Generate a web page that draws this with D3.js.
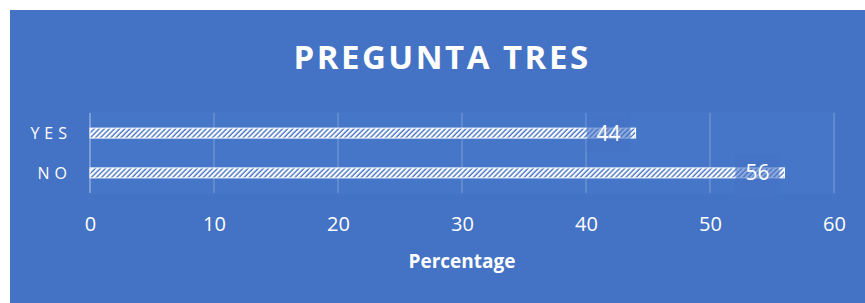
<!DOCTYPE html>
<html>
<head>
<meta charset="utf-8">
<script src="https://cdn.jsdelivr.net/npm/d3@7"></script>
<style>
  body { margin: 0; background: #fff; }
  text { font-family: "Open Sans", "Noto Sans", sans-serif; fill: #fff; }
</style>
</head>
<body>
<div id="chart"></div>
<script>
// Data
var categories = ["YES", "NO"];
var values = [44, 56];
var xTicks = [0, 10, 20, 30, 40, 50, 60];
var chartTitle = "PREGUNTA TRES";
var xTitle = "Percentage";

var W = 865, H = 303;
var plot = {left: 90, right: 834, top: 113, bottom: 193};

var svg = d3.select("#chart").append("svg")
    .attr("width", W)
    .attr("height", H);

// Hatch pattern for the bars
var defs = svg.append("defs");
var pat = defs.append("pattern")
    .attr("id", "hatch")
    .attr("patternUnits", "userSpaceOnUse")
    .attr("width", 3.6)
    .attr("height", 3.6)
    .attr("patternTransform", "rotate(45)");
pat.append("rect").attr("width", 3.6).attr("height", 3.6).attr("fill", "#4472c4");
pat.append("rect").attr("width", 2.2).attr("height", 3.6).attr("fill", "#fff");

// Background
svg.append("rect")
    .attr("x", 10).attr("y", 10)
    .attr("width", W - 10).attr("height", H - 10)
    .attr("fill", "#4472c4");

// Plot area
svg.append("rect")
    .attr("x", plot.left).attr("y", plot.top - 1)
    .attr("width", plot.right - plot.left + 2).attr("height", plot.bottom - plot.top + 2)
    .attr("fill", "#4676c8");

// Title
svg.append("text")
    .attr("x", 442).attr("y", 69)
    .attr("text-anchor", "middle")
    .attr("font-size", 33)
    .attr("font-weight", "bold")
    .attr("letter-spacing", 2.5)
    .text(chartTitle);

var x = d3.scaleLinear()
    .domain([0, 60])
    .range([plot.left, plot.right]);

var y = d3.scaleBand()
    .domain(categories)
    .range([plot.top, plot.bottom])
    .paddingInner(0.75)
    .paddingOuter(0.38);

// Gridlines
svg.append("g")
    .selectAll("line")
    .data(xTicks)
    .join("line")
    .attr("x1", d => x(d)).attr("x2", d => x(d))
    .attr("y1", plot.top).attr("y2", plot.bottom)
    .attr("stroke", "#fff")
    .attr("stroke-opacity", d => d === 0 ? 0.45 : 0.22)
    .attr("stroke-width", 1.3);

// Bars
svg.append("g")
    .selectAll("rect")
    .data(values)
    .join("rect")
    .attr("x", x(0))
    .attr("y", (d, i) => y(categories[i]))
    .attr("width", d => x(d) - x(0))
    .attr("height", y.bandwidth())
    .attr("fill", "url(#hatch)")
    .attr("stroke", "#fff")
    .attr("stroke-width", 1);

// Data labels with translucent box
var lbl = svg.append("g")
    .selectAll("g")
    .data(values)
    .join("g")
    .attr("transform", (d, i) => "translate(" + (x(d) - 27) + "," + (y(categories[i]) + y.bandwidth() / 2) + ")");
lbl.append("rect")
    .attr("x", -22).attr("y", (d, i) => i === 0 ? -20 : -19)
    .attr("width", 44).attr("height", 39)
    .attr("fill", "#4472c4")
    .attr("fill-opacity", 0.6);
lbl.append("text")
    .attr("text-anchor", "middle")
    .attr("dy", "0.36em")
    .attr("font-size", 21)
    .text(d => d);

// Category labels
svg.append("g")
    .selectAll("text")
    .data(categories)
    .join("text")
    .attr("x", 72)
    .attr("y", d => y(d) + y.bandwidth() / 2)
    .attr("dy", "0.36em")
    .attr("text-anchor", "end")
    .attr("font-size", 16)
    .attr("letter-spacing", 5)
    .text(d => d);

// X axis tick labels
var xAxis = d3.axisBottom(x).tickValues(xTicks).tickSize(0).tickPadding(0);
var gx = svg.append("g")
    .attr("transform", "translate(0," + 217 + ")")
    .call(xAxis);
gx.select(".domain").remove();
gx.selectAll("text")
    .attr("dy", "0.71em")
    .attr("font-size", 20)
    .attr("font-family", "Open Sans, Noto Sans, sans-serif")
    .attr("fill", "#fff");

// X axis title
svg.append("text")
    .attr("x", (plot.left + plot.right) / 2)
    .attr("y", 268)
    .attr("text-anchor", "middle")
    .attr("font-size", 19)
    .attr("font-weight", "bold")
    .text(xTitle);
</script>
</body>
</html>
